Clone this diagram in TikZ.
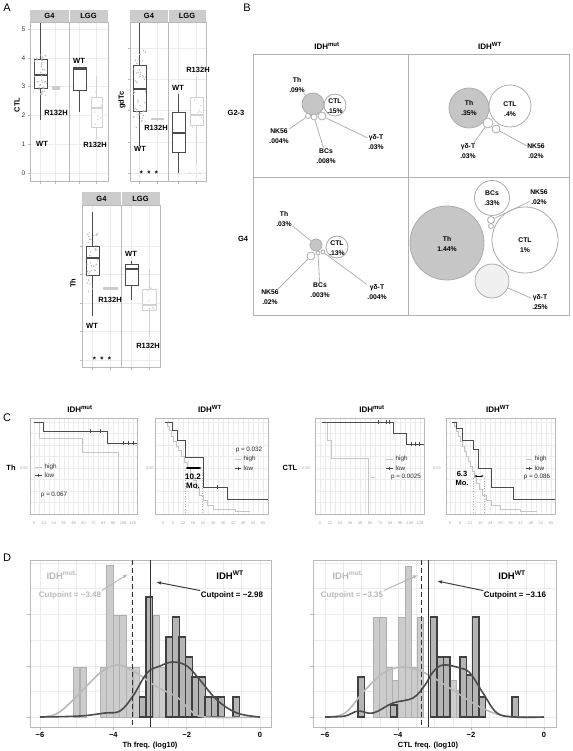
\documentclass[tikz,border=0pt]{standalone}
\usepackage{fontspec}
\setmainfont{Liberation Sans}
\usetikzlibrary{arrows.meta, positioning}

% box plot: colour, left, right, whisker top, box top, median, box bottom, whisker bottom
\newcommand{\boxwhisker}[8]{%
  \draw[#1, line width=1pt] ({(#2+#3)/2},#4) -- ({(#2+#3)/2},#5) ({(#2+#3)/2},#7) -- ({(#2+#3)/2},#8);
  \draw[#1, line width=1pt, fill=white] (#2,#5) rectangle (#3,#7);
  \draw[#1, line width=1.7pt] (#2,#6) -- (#3,#6);
}
% survival panel frame: left, right, x of month 0, grid step
\newcommand{\kmframe}[4]{%
  \foreach \j in {0,...,8} \draw[minor] (#1,{422+\j*11.5}) -- (#2,{422+\j*11.5});
  \foreach \i in {0,...,20} \draw[minor] ({#3+\i*#4},418) -- ({#3+\i*#4},514);
  \draw[pane] (#1,418) rectangle (#2,514);
}

\tikzset{
  facet/.style={fill=gray!40},
  pane/.style={draw=gray!55, line width=0.8pt},
  minor/.style={draw=gray!15, line width=0.4pt},
  lbl/.style={font=\fontsize{7.5}{8}\selectfont\bfseries, inner sep=0.5pt},
  cutlbl/.style={font=\fontsize{8}{9}\selectfont\bfseries, inner sep=0.5pt},
  axnum/.style={font=\fontsize{6.5}{7}\selectfont, text=black!80, inner sep=0.5pt},
  tinynum/.style={font=\fontsize{4}{4}\selectfont, text=gray!70, inner sep=0.5pt},
  legtext/.style={font=\fontsize{6.3}{7}\selectfont, text=black!85, inner sep=0.5pt, anchor=west},
  bubble/.style={circle, draw=gray!65, line width=0.8pt, inner sep=0pt},
  cellname/.style={align=center, font=\fontsize{6.8}{9.5}\selectfont\bfseries, inner sep=0.5pt},
  leader/.style={draw=gray!60, line width=0.8pt},
  hdr/.style={font=\fontsize{8}{9}\selectfont\bfseries, inner sep=0.5pt},
  bighdr/.style={font=\fontsize{9.5}{10}\selectfont\bfseries, inner sep=0.5pt},
  letter/.style={font=\fontsize{11}{12}\selectfont, inner sep=0pt},
  hicurve/.style={draw=gray!45, line width=0.9pt},
  locurve/.style={draw=black!70, line width=0.9pt},
  lbar/.style={fill=gray!40, draw=gray!62, line width=0.9pt},
  dbar/.style={fill=gray!58, draw=black!75, line width=1.1pt},
}

\begin{document}
\begin{tikzpicture}[x=1pt, y=-1pt, font=\fontsize{7}{8}\selectfont\bfseries]
\useasboundingbox (0,0) rectangle (572,751);

% Panel letters
\node[letter] (la) at (7,8) {A};
\node[letter] (lb) at (247,8) {B};
\node[letter] (lc) at (7,418) {C};
\node[letter] (ld) at (7,558) {D};

% ---------- A: CTL box plot ----------
\foreach \v in {0,...,5} \draw[minor] (30,{173-28.8*\v}) -- (108,{173-28.8*\v});
\foreach \gx in {40.5,55.5,79.5,96.5} \draw[minor] (\gx,22) -- (\gx,181);
\draw[pane] (30,22) rectangle (69,181) (69,22) rectangle (108,181);
\fill[facet] (30,10) rectangle (108,22);
\draw[white, line width=0.8pt] (69,10) -- (69,22);
\node[lbl] (ctlg4) at (49.5,16) {G4};
\node[lbl] (ctllgg) at (88.5,16) {LGG};
\foreach \v in {0,...,5} {
  \draw[gray!55] (27.5,{173-28.8*\v}) -- (30,{173-28.8*\v});
  \node[axnum] (ctly\v) at (23.5,{173-28.8*\v}) {\v};
}
\foreach \gx in {40.5,55.5,79.5,96.5} \draw[gray!55] (\gx,181) -- (\gx,184);
\node[lbl, rotate=90] (ctlax) at (17,105) {CTL};
\boxwhisker{black!70}{34}{47}{23}{60}{75}{89}{120}
\boxwhisker{gray!40}{52}{59}{86}{86.5}{88}{89.5}{90}
\boxwhisker{black!70}{73}{86}{68}{68}{69}{91}{112}
\boxwhisker{gray!35}{91}{102}{76}{98}{108}{128}{138}
\pgfmathsetseed{11}
\foreach \i in {1,...,40} \fill[gray!55] ({40.5+6*rand},{76+22*rand}) circle (0.8pt);
\foreach \i in {1,...,8} \fill[gray!35] ({96.5+5*rand},{110+18*rand}) circle (0.8pt);
\node[lbl] (ctlr1) at (56,113) {R132H};
\node[lbl] (ctlw1) at (42,144) {WT};
\node[lbl] (ctlw2) at (79,61) {WT};
\node[lbl] (ctlr2) at (95,145) {R132H};

% ---------- A: gdTc box plot ----------
\foreach \v in {0,...,4} \draw[minor] (130,{173-31.2*\v}) -- (206,{173-31.2*\v});
\foreach \gx in {139.5,157,178.5,196.5} \draw[minor] (\gx,22) -- (\gx,181);
\draw[pane] (130,22) rectangle (168,181) (168,22) rectangle (206,181);
\fill[facet] (130,10) rectangle (206,22);
\draw[white, line width=0.8pt] (168,10) -- (168,22);
\node[lbl] (gdg4) at (149,16) {G4};
\node[lbl] (gdlgg) at (187,16) {LGG};
\foreach \v in {0,...,4} \draw[gray!55] (127.5,{173-31.2*\v}) -- (130,{173-31.2*\v});
\foreach \gx in {139.5,157,178.5,196.5} \draw[gray!55] (\gx,181) -- (\gx,184);
\node[lbl, rotate=90] (gdax) at (122,100) {gdTc};
\boxwhisker{black!70}{133}{146}{23}{66}{89}{112}{146}
\boxwhisker{gray!40}{151}{163}{118}{118.5}{119}{120}{120.5}
\boxwhisker{black!70}{172}{185}{94}{113}{133}{153}{173}
\boxwhisker{gray!35}{190}{203}{77}{98}{115}{126}{163}
\foreach \i in {1,...,45} \fill[gray!55] ({139.5+6*rand},{90+40*rand}) circle (0.8pt);
\foreach \i in {1,...,7} \fill[gray!35] ({196.5+5*rand},{112+16*rand}) circle (0.8pt);
\fill[gray!35] (190,173) circle (0.8pt) (200,173) circle (0.8pt);
\node[lbl] (gdr1) at (156,128) {R132H};
\node[lbl] (gdw1) at (140,149) {WT};
\node[lbl] (gdw2) at (178,88) {WT};
\node[lbl] (gdr2) at (198,70) {R132H};
\node[lbl, font=\fontsize{8}{8}\selectfont\bfseries] (gdstars) at (149,174) {*\ \ *\ \ *};

% ---------- A: Th box plot ----------
\foreach \v in {0,...,4} \draw[minor] (82,{360-28.5*\v}) -- (160,{360-28.5*\v});
\foreach \gx in {92.5,110,131.5,149} \draw[minor] (\gx,205) -- (\gx,367);
\draw[pane] (82,205) rectangle (121,367) (121,205) rectangle (160,367);
\fill[facet] (82,192) rectangle (160,205);
\draw[white, line width=0.8pt] (121,192) -- (121,205);
\node[lbl] (thg4) at (101.5,198.5) {G4};
\node[lbl] (thlgg) at (140.5,198.5) {LGG};
\foreach \v in {0,...,4} \draw[gray!55] (79.5,{360-28.5*\v}) -- (82,{360-28.5*\v});
\foreach \gx in {92.5,110,131.5,149} \draw[gray!55] (\gx,367) -- (\gx,370);
\node[lbl, rotate=90] (thax) at (73,283) {Th};
\boxwhisker{black!70}{86}{99}{212}{246}{258}{275}{316}
\boxwhisker{gray!40}{103}{117}{287}{287.5}{288}{289}{289.5}
\boxwhisker{black!70}{125}{138}{261}{264}{269}{285}{300}
\boxwhisker{gray!35}{142}{156}{269}{289}{305}{310}{337}
\foreach \i in {1,...,35} \fill[gray!55] ({92.5+6*rand},{262+30*rand}) circle (0.8pt);
\foreach \i in {1,...,6} \fill[gray!35] ({149+5*rand},{300+12*rand}) circle (0.8pt);
\node[lbl] (thr1) at (110,300) {R132H};
\node[lbl] (thw1) at (92,326) {WT};
\node[lbl] (thw2) at (131,254) {WT};
\node[lbl] (thr2) at (148,346) {R132H};
\node[lbl, font=\fontsize{8}{8}\selectfont\bfseries] (thstars) at (102,360) {*\ \ *\ \ *};

% ---------- B: bubble grid ----------
\draw[gray!60, line width=1pt] (253,55) rectangle (569,315) (408,55) -- (408,315) (253,178) -- (569,178);
\node[hdr] (bmut) at (327,46) {IDH\textsuperscript{mut}};
\node[hdr] (bwt) at (490,46) {IDH\textsuperscript{WT}};
\node[lbl] (brow1) at (236,113) {G2-3};
\node[lbl] (brow2) at (243,239) {G4};

% IDHmut, G2-3
\node[bubble, fill=gray!45, minimum size=22pt] (th1) at (313,104) {};
\node[bubble, fill=white, minimum size=22pt] (ctl1) at (335,105) {};
\node[bubble, fill=white, minimum size=5pt] (nk1) at (308,116) {};
\node[bubble, fill=white, minimum size=6pt] (bc1) at (314,117) {};
\node[bubble, fill=white, minimum size=8pt] (gd1) at (322,116) {};
\node[cellname] (ctl1t) at (335,106) {CTL\\.15\%};
\node[cellname] (th1t) at (297,85) {Th\\.09\%};
\node[cellname] (nk1t) at (279,136) {NK56\\.004\%};
\node[cellname] (bc1t) at (326,156) {BCs\\.008\%};
\node[cellname] (gd1t) at (376,142) {γδ-T\\.03\%};
\draw[leader] (th1t) -- (th1);
\draw[leader] (nk1t) -- (nk1);
\draw[leader] (bc1t) -- (bc1);
\draw[leader] (gd1t) -- (gd1);

% IDHWT, G2-3
\node[bubble, fill=gray!45, minimum size=40pt] (th2) at (469,108) {};
\node[bubble, fill=white, minimum size=42pt] (ctl2) at (510,106) {};
\node[bubble, fill=white, minimum size=10pt] (gd2) at (488,123) {};
\node[bubble, fill=white, minimum size=8pt] (nk2) at (496,129) {};
\node[cellname] (th2t) at (469,108) {Th\\.35\%};
\node[cellname] (ctl2t) at (510,109) {CTL\\.4\%};
\node[cellname] (gd2t) at (468,151) {γδ-T\\.03\%};
\node[cellname] (nk2t) at (536,151) {NK56\\.02\%};
\draw[leader] (gd2t) -- (gd2);
\draw[leader] (nk2t) -- (nk2);

% IDHmut, G4
\node[bubble, fill=gray!45, minimum size=12pt] (th3) at (316,245) {};
\node[bubble, fill=white, minimum size=22pt] (ctl3) at (337,247) {};
\node[bubble, fill=white, minimum size=8pt] (nk3) at (311,256) {};
\node[bubble, fill=white, minimum size=4pt] (bc3) at (318,253) {};
\node[bubble, fill=white, minimum size=4pt] (gd3) at (323,252) {};
\node[cellname] (ctl3t) at (337,248) {CTL\\.13\%};
\node[cellname] (th3t) at (284,219) {Th\\.03\%};
\node[cellname] (nk3t) at (270,297) {NK56\\.02\%};
\node[cellname] (bc3t) at (320,290) {BCs\\.003\%};
\node[cellname] (gd3t) at (377,292) {γδ-T\\.004\%};
\draw[leader] (th3t) -- (th3);
\draw[leader] (nk3t) -- (nk3);
\draw[leader] (bc3t) -- (bc3);
\draw[leader] (gd3t) -- (gd3);

% IDHWT, G4
\node[bubble, fill=gray!45, minimum size=74pt] (th4) at (447,243) {};
\node[bubble, fill=white, minimum size=66pt] (ctl4) at (525,240) {};
\node[bubble, fill=white, minimum size=35pt] (bc4) at (492,198) {};
\node[bubble, fill=gray!12, minimum size=34pt] (gd4) at (492,281) {};
\node[bubble, fill=white, minimum size=7pt] (nk4) at (491,220) {};
\node[bubble, fill=white, minimum size=5pt] (sm4) at (491,226) {};
\node[cellname] (th4t) at (447,244) {Th\\1.44\%};
\node[cellname] (ctl4t) at (525,245) {CTL\\1\%};
\node[cellname] (bc4t) at (492,198) {BCs\\.33\%};
\node[cellname] (nk4t) at (539,197) {NK56\\.02\%};
\node[cellname] (gd4t) at (540,302) {γδ-T\\.25\%};
\draw[leader] (nk4t) -- (nk4);
\draw[leader] (gd4t) -- (gd4);

% ---------- C: survival curves ----------
\node[hdr] (cmut1) at (80,409) {IDH\textsuperscript{mut}};
\node[hdr] (cwt1) at (210,409) {IDH\textsuperscript{WT}};
\node[hdr] (cmut2) at (372,409) {IDH\textsuperscript{mut}};
\node[hdr] (cwt2) at (498,409) {IDH\textsuperscript{WT}};
\node[lbl] (cth) at (11,468) {Th};
\node[lbl] (cctl) at (290,468) {CTL};
\foreach \px/\nm in {24/a,150/b,306/c,437/d} \node[tinynum] (half\nm) at (\px,468) {0.50};

% Th, IDHmut
\kmframe{30}{137}{34}{4.95}
\foreach \m [count=\k from 0] in {0,12,...,120} \node[tinynum] (c1x\k) at ({34+9.9*\k},523) {\m};
\draw[hicurve] (34,422) -| (39,438) -| (82,452) -| (118,514);
\draw[locurve] (34,422) -| (43,431) -| (107,443) -- (137,443);
\foreach \cx in {90,100} \draw[locurve, line width=0.6pt] (\cx,429) -- (\cx,433);
\foreach \cx in {123,128,133} \draw[locurve, line width=0.6pt] (\cx,441) -- (\cx,445);
\draw[hicurve] (35,467) -- (42,467);
\draw[locurve] (35,475) -- (42,475) (38.5,473.5) -- (38.5,476.5);
\node[legtext] (c1hi) at (44,467) {high};
\node[legtext] (c1lo) at (44,475) {low};
\node[legtext, anchor=center] (c1p) at (54,495) {p = 0.067};

% Th, IDHWT
\kmframe{155}{268}{163}{5}
\foreach \m [count=\k from 0] in {0,6,...,60} \node[tinynum] (c2x\k) at ({163+10*\k},523) {\m};
\draw[gray!60, dotted, line width=0.6pt] (185,470) -- (185,514) (202,470) -- (202,514);
\draw[hicurve] (165,422) -| (167,426) -| (169,430) -| (171,436) -| (173,441) -| (176,446) -| (178,450)
  -| (181,456) -| (184,462) -| (187,468) -| (190,474) -| (193,480) -| (196,488) -| (199,495)
  -| (203,500) -| (207,505) -| (213,509) -| (235,511) -- (250,511);
\draw[locurve] (165,422) -| (172,430) -| (177,440) -| (185,457) -| (203,487) -| (227,499) -- (268,499);
\draw[locurve, line width=0.6pt] (217,485) -- (217,489);
\draw[{Latex[length=3pt]}-{Latex[length=3pt]}, line width=1.3pt] (185,468) -- (202,468);
\node[lbl, font=\fontsize{8}{8}\selectfont\bfseries] (c2mo1) at (193,477) {10.2};
\node[lbl, font=\fontsize{8}{8}\selectfont\bfseries] (c2mo2) at (193,486) {Mo.};
\node[legtext, anchor=center] (c2p) at (249,450) {p = 0.032};
\draw[hicurve] (235,459) -- (241,459);
\draw[locurve] (235,468) -- (241,468) (238,466.5) -- (238,469.5);
\node[legtext] (c2hi) at (243,459) {high};
\node[legtext] (c2lo) at (243,468) {low};

% CTL, IDHmut
\kmframe{315}{424}{320}{5}
\foreach \m [count=\k from 0] in {0,12,...,120} \node[tinynum] (c3x\k) at ({320+10*\k},523) {\m};
\draw[hicurve] (322,422) -| (327,440) -| (331,458) -| (368,514);
\draw[hicurve, line width=0.6pt] (371,477) -- (375,477);
\draw[locurve] (322,422) -| (393,433) -| (406,444) -- (424,444);
\foreach \cx in {378,386,389} \draw[locurve, line width=0.6pt] (\cx,420) -- (\cx,424);
\foreach \cx in {411,415,419} \draw[locurve, line width=0.6pt] (\cx,442) -- (\cx,446);
\draw[hicurve] (386,459) -- (393,459);
\draw[locurve] (386,468) -- (393,468) (389.5,466.5) -- (389.5,469.5);
\node[legtext] (c3hi) at (395,459) {high};
\node[legtext] (c3lo) at (395,468) {low};
\node[legtext, anchor=center] (c3p) at (406,477) {p = 0.0025};

% CTL, IDHWT
\kmframe{446}{555}{450}{5.05}
\foreach \m [count=\k from 0] in {0,6,...,60} \node[tinynum] (c4x\k) at ({450+10.1*\k},523) {\m};
\draw[gray!60, dotted, line width=0.6pt] (473,478) -- (473,514) (484,478) -- (484,514);
\draw[hicurve] (452,422) -| (454,426) -| (456,431) -| (458,436) -| (460,441) -| (462,446) -| (464,451)
  -| (466,456) -| (468,461) -| (470,466) -| (472,471) -| (474,477) -| (476,483) -| (479,489)
  -| (482,495) -| (486,500) -| (491,505) -| (500,509) -| (520,511) -- (537,511);
\draw[locurve] (452,422) -| (456,428) -| (462,440) -| (473,449) -| (478,468) -| (491,487) -| (513,499) -- (555,499);
\draw[{Latex[length=2.5pt]}-{Latex[length=2.5pt]}, line width=1pt] (474,476) -- (484,476);
\node[lbl] (c4mo1) at (462,474) {6.3};
\node[lbl] (c4mo2) at (462,483) {Mo.};
\draw[hicurve] (526,459) -- (532,459);
\draw[locurve] (526,468) -- (532,468) (529,466.5) -- (529,469.5);
\node[legtext] (c4hi) at (534,459) {high};
\node[legtext] (c4lo) at (534,468) {low};
\node[legtext, anchor=center] (c4p) at (537,477) {p = 0.086};

% ---------- D: Th histogram ----------
\foreach \v in {-6,-5.5,...,0} \draw[minor] ({260+36.67*\v},560) -- ({260+36.67*\v},727);
\foreach \gy in {563,588.5,614,640,666,691.5,717} \draw[minor] (30,\gy) -- (271,\gy);
\draw[pane] (30,560) rectangle (271,727);
\foreach \gy in {614,666,717} \draw[gray!55] (27,\gy) -- (30,\gy);
\foreach \bx/\by in {73/667,80/667,100/667,106.5/565,113/615,119.5/615,126/667,133/667,153/615,159.5/667}
  \draw[lbar] (\bx,717) rectangle ({\bx+6.6},\by);
\foreach \bx/\by in {139.5/697,146/597,166/637,172.5/617,179/637,185.5/657,192/677,198.5/677,205/697,211.5/697,218/697,233/697}
  \draw[dbar] (\bx,717) rectangle ({\bx+6.6},\by);
\draw[gray!55, line width=1.6pt] plot[smooth, tension=0.6] coordinates {(40,717) (58,713) (80,693) (100,673) (117,665) (135,672) (157,687) (177,697) (190,710) (205,717) (260,717)};
\draw[black!70, line width=1.6pt] plot[smooth, tension=0.6] coordinates {(40,717) (80,716) (105,713) (120,711) (133,696) (147,673) (160,666) (173,662) (187,666) (200,680) (217,700) (237,713) (260,717)};
\draw[black!80, line width=1.2pt, dash pattern=on 5pt off 3pt] (132.4,560) -- (132.4,727);
\draw[black!80, line width=1.2pt] (150.7,560) -- (150.7,727);
\foreach \v/\lab in {-6/−6,-4/−4,-2/−2,0/0} {
  \draw[gray!55] ({260+36.67*\v},727) -- ({260+36.67*\v},730);
  \node[lbl] (dxa\lab) at ({260+36.67*\v},735) {\lab};
}
\node[lbl] (dthax) at (150,746) {Th freq. (log10)};
\node[bighdr, text=gray!55] (dmut1) at (62,575) {IDH\textsuperscript{mut.}};
\node[cutlbl, text=gray!55] (cut1) at (70,595) {Cutpoint = −3.48};
\coordinate (cut1h) at (128,574);
\draw[-{Latex[length=5pt]}, gray!55, line width=1pt] (cut1.north east) -- (cut1h);
\node[bighdr] (dwt1) at (230,575) {IDH\textsuperscript{WT}};
\node[cutlbl] (cut2) at (232,595) {Cutpoint = −2.98};
\coordinate (cut2h) at (156,582);
\draw[-{Latex[length=5pt]}, black!75, line width=1pt] (cut2.north west) -- (cut2h);

% ---------- D: CTL histogram ----------
\foreach \v in {-6,-5.5,...,0} \draw[minor] ({544+36.5*\v},560) -- ({544+36.5*\v},727);
\foreach \gy in {563,588.5,614,640,666,691.5,717} \draw[minor] (313,\gy) -- (556,\gy);
\draw[pane] (313,560) rectangle (556,727);
\foreach \gy in {614,666,717} \draw[gray!55] (310,\gy) -- (313,\gy);
\foreach \bx/\by in {373/617,379.5/617,386/667,392.5/680,398.5/617,405/566,411.5/667,417/617,437/667,443.5/667,450/680,456.5/690}
  \draw[lbar] (\bx,717) rectangle ({\bx+6.5},\by);
\foreach \bx/\by in {358/677,390.5/705,430.5/617,437/657,443.5/657,460/657,466.5/675,472.5/617,479/697,512/697}
  \draw[dbar] (\bx,717) rectangle ({\bx+6.5},\by);
\draw[gray!55, line width=1.6pt] plot[smooth, tension=0.6] coordinates {(325,717) (345,713) (365,690) (385,672) (405,667) (425,673) (445,685) (465,698) (480,707) (497,714) (515,717) (544,717)};
\draw[black!70, line width=1.6pt] plot[smooth, tension=0.6] coordinates {(325,717) (345,716) (358,711) (373,713) (393,703) (413,698) (425,685) (433,672) (443,665) (460,668) (470,673) (483,693) (497,713) (515,717) (544,717)};
\draw[black!80, line width=1.2pt, dash pattern=on 5pt off 3pt] (421.7,560) -- (421.7,727);
\draw[black!80, line width=1.2pt] (428.7,560) -- (428.7,727);
\foreach \v/\lab in {-6/−6,-4/−4,-2/−2,0/0} {
  \draw[gray!55] ({544+36.5*\v},727) -- ({544+36.5*\v},730);
  \node[lbl] (dxb\lab) at ({544+36.5*\v},735) {\lab};
}
\node[lbl] (dctlax) at (428,746) {CTL freq. (log10)};
\node[bighdr, text=gray!55] (dmut2) at (348,575) {IDH\textsuperscript{mut.}};
\node[cutlbl, text=gray!55] (cut3) at (352,595) {Cutpoint = −3.35};
\coordinate (cut3h) at (418,575);
\draw[-{Latex[length=5pt]}, gray!55, line width=1pt] (cut3.north east) -- (cut3h);
\node[bighdr] (dwt2) at (512,575) {IDH\textsuperscript{WT}};
\node[cutlbl] (cut4) at (515,595) {Cutpoint = −3.16};
\coordinate (cut4h) at (437,581);
\draw[-{Latex[length=5pt]}, black!75, line width=1pt] (cut4.north west) -- (cut4h);
\end{tikzpicture}
\end{document}
